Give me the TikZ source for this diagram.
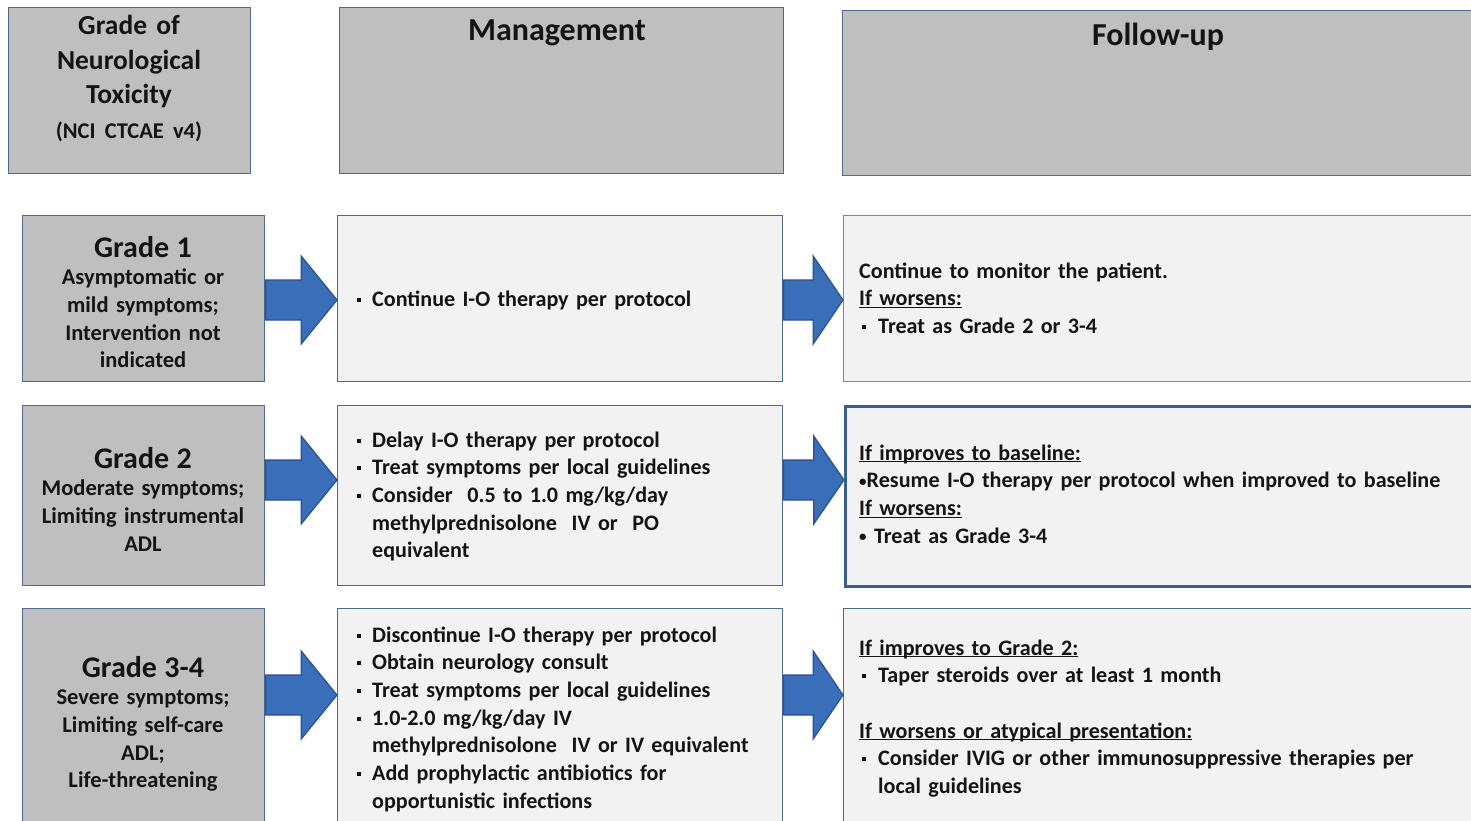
\documentclass[tikz,border=0pt]{standalone}
\usepackage{fontspec}
\setmainfont{Carlito}
\usetikzlibrary{calc}

\definecolor{hdrfill}{HTML}{BFBFBF}
\definecolor{boxline}{HTML}{4E6A8D}
\definecolor{lightfill}{HTML}{F2F2F2}
\definecolor{arrowfill}{HTML}{3B6EB9}
\definecolor{arrowline}{HTML}{2A5190}
\definecolor{strongline}{HTML}{3A5E8E}
\definecolor{ink}{HTML}{141414}

% fonts
\newcommand\bodyfont{\fontsize{22.5}{27.7}\selectfont\bfseries}
\newcommand\listfont{\fontsize{22.1}{27.7}\selectfont\bfseries}
\newcommand\titlefont{\fontsize{30}{27.7}\selectfont\bfseries}
\newcommand\headfont{\fontsize{32}{38}\selectfont\bfseries}

% list helpers
\newcommand\sqbul{\makebox[15pt][l]{\rule[4.5pt]{4pt}{4pt}}}
\newcommand\bitem[1]{\hangindent=15pt\hangafter=1\sqbul#1\par}
\newcommand\bitemx[1]{\hangindent=19pt\hangafter=1\hspace*{3pt}\makebox[16pt][l]{\rule[4.5pt]{4pt}{4pt}}#1\par}
\newcommand\smallbul{\raisebox{1.5pt}{\fontsize{15}{15}\selectfont\textbullet}}
\newcommand\ulin[1]{\underline{\smash{#1}}}

% block arrow between two boxes, tip at height #3
\newcommand\flowarrow[3]{%
  \coordinate (#1#2mid) at ($(#1.east)!.5!(#2.west)$);
  \pgfmathsetmacro\yheadtop{#3-44}%
  \pgfmathsetmacro\yshafttop{#3-20}%
  \pgfmathsetmacro\yshaftbot{#3+20}%
  \pgfmathsetmacro\yheadbot{#3+44}%
  \draw[blockarrow] (#1.east |- 0,\yshafttop) -- (#1#2mid |- 0,\yshafttop)
    -- (#1#2mid |- 0,\yheadtop) -- (#2.west |- 0,#3)
    -- (#1#2mid |- 0,\yheadbot) -- (#1#2mid |- 0,\yshaftbot)
    -- (#1.east |- 0,\yshaftbot) -- cycle;}

\tikzset{
  graybox/.style={draw=boxline, fill=hdrfill, line width=1.4pt, inner sep=0pt,
    anchor=north west},
  bodybox/.style={draw=boxline, fill=lightfill, line width=1.4pt, inner sep=0pt,
    anchor=north west},
  centertext/.style={inner sep=0pt, text=ink, align=center, text width=238pt,
    anchor=base},
  listtext/.style={inner sep=0pt, text=ink, align=left, text width=420pt,
    anchor=base west, font=\listfont},
  blockarrow/.style={fill=arrowfill, draw=arrowline, line width=1.2pt,
    line join=miter},
}

\begin{document}
\begin{tikzpicture}[x=1pt, y=-1pt]
\clip (0,0) rectangle (1471,821);
\fill[white] (0,0) rectangle (1471,821);

% ---- column headers ----
\node[graybox, minimum width=242, minimum height=166] (h1) at (8,7) {};
\node[graybox, minimum width=444, minimum height=166] (h2) at (339,7) {};
\node[graybox, minimum width=660, minimum height=165] (h3) at (842,10) {};

\node[centertext, font={\fontsize{27.5}{34.5}\selectfont\bfseries}] (h1t) at (129,35)
  {Grade of\\Neurological\\Toxicity\\{\fontsize{22.5}{34}\selectfont (NCI CTCAE v4)}};
\node[inner sep=0pt, text=ink, font=\headfont, anchor=base] (h2t) at (557,41) {Management};
\node[inner sep=0pt, text=ink, font=\headfont, anchor=base] (h3t) at (1158,46) {Follow-up};

% ---- grade 1 row ----
\node[graybox, minimum width=242, minimum height=166] (g1) at (22,215) {};
\node[bodybox, minimum width=445, minimum height=166] (m1) at (337,215) {};
\node[bodybox, minimum width=660, minimum height=166, draw=boxline!80] (f1) at (843,215) {};

\node[centertext, font=\bodyfont] (g1t) at (143,257)
  {{\titlefont Grade 1}\\Asymptomatic or\\mild symptoms;\\Intervention not\\indicated};
\node[listtext] (m1t) at (357,306) {\bitem{Continue I-O therapy per protocol}};
\node[listtext, text width=580pt] (f1t) at (859,278)
  {Continue to monitor the patient.\par
   \ulin{If worsens:}\par
   \bitemx{Treat as Grade 2 or 3-4}};

% ---- grade 2 row ----
\node[graybox, minimum width=242, minimum height=180] (g2) at (22,405) {};
\node[bodybox, minimum width=445, minimum height=180] (m2) at (337,405) {};
\node[bodybox, minimum width=660, minimum height=180, draw=strongline,
  line width=3pt] (f2) at (844,405) {};

\node[centertext, font=\bodyfont] (g2t) at (143,468)
  {{\titlefont Grade 2}\\Moderate symptoms;\\Limiting instrumental\\ADL};
\node[listtext] (m2t) at (357,447)
  {\bitem{Delay I-O therapy per protocol}
   \bitem{Treat symptoms per local guidelines}
   \bitem{Consider\ \ 0.5 to 1.0 mg/kg/day\newline methylprednisolone\ \ IV or\ \ PO\newline equivalent}};
\node[listtext, text width=600pt] (f2t) at (859,460)
  {\ulin{If improves to baseline:}\par
   \smallbul Resume I-O therapy per protocol when improved to baseline\par
   \ulin{If worsens:}\par
   \smallbul\ Treat as Grade 3-4};

% ---- grade 3-4 row ----
\node[graybox, minimum width=242, minimum height=228] (g3) at (22,608) {};
\node[bodybox, minimum width=445, minimum height=228] (m3) at (337,608) {};
\node[bodybox, minimum width=660, minimum height=228] (f3) at (843,608) {};

\node[centertext, font=\bodyfont] (g3t) at (143,677)
  {{\titlefont Grade 3-4}\\Severe symptoms;\\Limiting self-care\\ADL;\\Life-threatening};
\node[listtext] (m3t) at (357,642)
  {\bitem{Discontinue I-O therapy per protocol}
   \bitem{Obtain neurology consult}
   \bitem{Treat symptoms per local guidelines}
   \bitem{1.0-2.0 mg/kg/day IV\newline methylprednisolone\ \ IV or IV equivalent}
   \bitem{Add prophylactic antibiotics for\newline opportunistic infections}};
\node[listtext, text width=600pt] (f3t) at (859,655)
  {\ulin{If improves to Grade 2:}\par
   \bitemx{Taper steroids over at least 1 month}
   \mbox{}\par
   \ulin{If worsens or atypical presentation:}\par
   \bitemx{Consider IVIG or other immunosuppressive therapies per\newline local guidelines}};

% ---- arrows ----
\flowarrow{g1}{m1}{300}
\flowarrow{m1}{f1}{300}
\flowarrow{g2}{m2}{480}
\flowarrow{m2}{f2}{480}
\flowarrow{g3}{m3}{695}
\flowarrow{m3}{f3}{695}
\end{tikzpicture}
\end{document}
